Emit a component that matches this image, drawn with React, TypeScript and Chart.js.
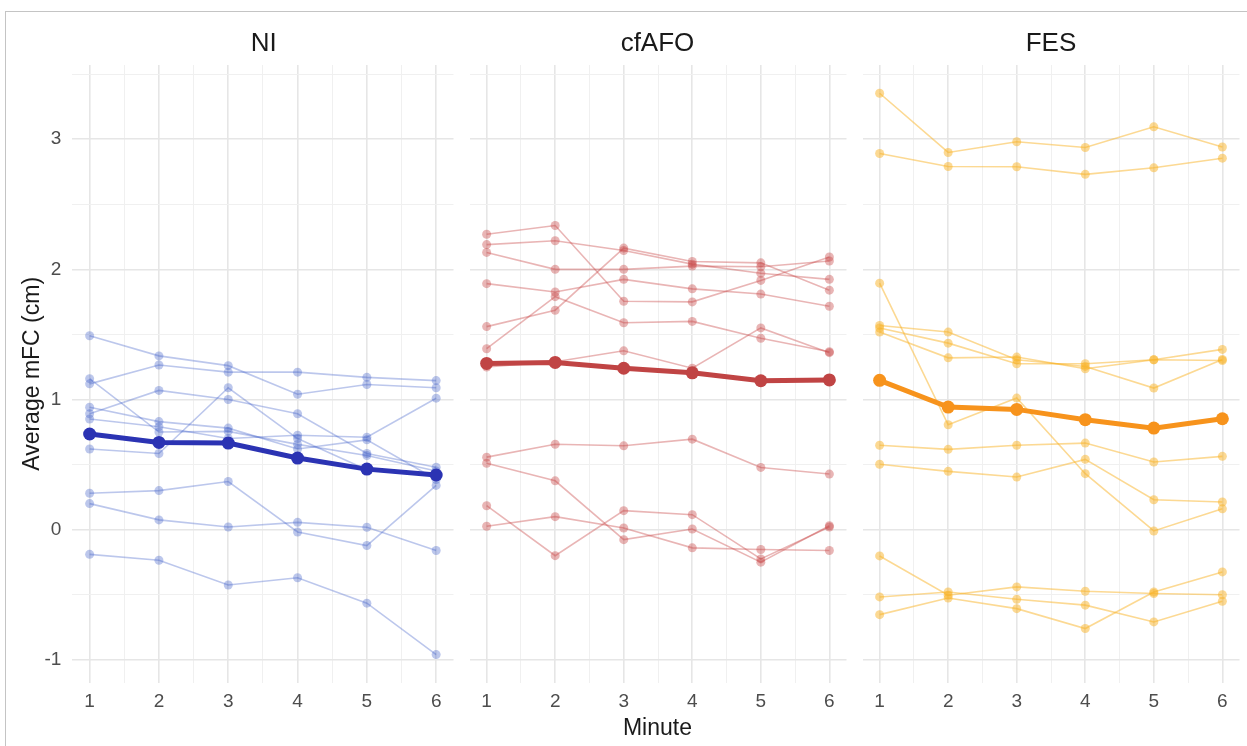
import React, { useEffect, useRef } from 'react';
import { Chart, registerables } from 'chart.js';

Chart.register(...registerables);

// ---------- data ----------
const minutes = [1, 2, 3, 4, 5, 6];
const xTickValues = [1, 1.5, 2, 2.5, 3, 3.5, 4, 4.5, 5, 5.5, 6];
const yTickValues = [-1, -0.5, 0, 0.5, 1, 1.5, 2, 2.5, 3, 3.5];
const panelTitles = ['NI', 'cfAFO', 'FES'];

const niLines = [
  [1.49, 1.335, 1.26, 1.04, 1.115, 1.09],
  [1.12, 1.265, 1.21, 1.21, 1.17, 1.145],
  [1.16, 0.75, 0.755, 0.655, 0.57, 0.45],
  [0.62, 0.585, 1.09, 0.7, 0.46, 0.42],
  [0.28, 0.3, 0.37, -0.018, -0.122, 0.34],
  [0.2, 0.075, 0.02, 0.056, 0.018, -0.16],
  [-0.19, -0.235, -0.425, -0.37, -0.565, -0.96],
  [0.89, 1.07, 1.0, 0.89, 0.585, 0.48],
  [0.94, 0.83, 0.78, 0.62, 0.69, 0.385],
  [0.85, 0.79, 0.7, 0.725, 0.71, 1.01],
];
const niMean = [0.735, 0.67, 0.665, 0.55, 0.465, 0.42];

const cfafoLines = [
  [2.27, 2.337, 1.755, 1.75, 1.915, 2.095],
  [2.19, 2.22, 2.145, 2.04, 1.97, 1.923],
  [2.13, 2.0, 2.0, 2.025, 2.02, 2.064],
  [1.89, 1.826, 1.923, 1.85, 1.81, 1.716],
  [1.56, 1.686, 2.163, 2.06, 2.05, 1.84],
  [1.39, 1.79, 1.59, 1.6, 1.47, 1.367],
  [1.25, 1.29, 1.374, 1.24, 1.55, 1.36],
  [0.557, 0.656, 0.644, 0.695, 0.478, 0.427],
  [0.51, 0.375, -0.077, 0.005, -0.25, 0.03],
  [0.184, -0.2, 0.146, 0.115, -0.225, 0.02],
  [0.026, 0.1, 0.013, -0.14, -0.153, -0.16],
];
const cfafoMean = [1.277, 1.285, 1.24, 1.205, 1.144, 1.15];

const fesLines = [
  [3.353, 2.898, 2.98, 2.936, 3.095, 2.94],
  [2.89, 2.79, 2.788, 2.73, 2.78, 2.854],
  [1.894, 0.806, 1.011, 0.43, -0.01, 0.16],
  [1.569, 1.518, 1.305, 1.254, 1.088, 1.308],
  [1.549, 1.433, 1.275, 1.275, 1.305, 1.3],
  [1.518, 1.32, 1.326, 1.236, 1.305, 1.385],
  [0.648, 0.617, 0.648, 0.665, 0.52, 0.563],
  [0.502, 0.448, 0.404, 0.54, 0.23, 0.212],
  [-0.202, -0.504, -0.44, -0.473, -0.491, -0.5],
  [-0.517, -0.479, -0.535, -0.58, -0.709, -0.55],
  [-0.653, -0.525, -0.607, -0.76, -0.479, -0.325],
];
const fesMean = [1.147, 0.942, 0.924, 0.845, 0.78, 0.852];

const allLines = [niLines, cfafoLines, fesLines];
const allMeans = [niMean, cfafoMean, fesMean];

// ---------- styling ----------
const lightColors = ['rgba(60,90,200,0.34)', 'rgba(200,70,70,0.4)', 'rgba(250,180,40,0.5)'];
const meanColors = ['#2b33b3', '#c04444', '#f7931c'];
const FONT = '"Liberation Sans", Arial, Helvetica, sans-serif';

const Y_MIN = -1.176;
const Y_MAX = 3.57;
const X_MIN = 0.75;
const X_MAX = 6.25;

const PANELS = [
  { left: 72.3, right: 455 },
  { left: 466.7, right: 848.3 },
  { left: 860, right: 1242 },
];
const PLOT_TOP = 65;
const PLOT_BOTTOM = 682.7;
const CANVAS_H = 746;

const toPoints = (vals: number[]) => vals.map((v, i) => ({ x: minutes[i], y: v }));

const isMajor = (v: number) => Math.abs(v - Math.round(v)) < 1e-9;

export default function App() {
  const refs = [useRef<HTMLCanvasElement>(null), useRef<HTMLCanvasElement>(null), useRef<HTMLCanvasElement>(null)];

  useEffect(() => {
    const charts: Chart[] = [];
    PANELS.forEach((p, i) => {
      const canvas = refs[i].current;
      if (!canvas) return;
      const padL = i === 0 ? 0 : 4;
      const datasets: any[] = [
        {
          data: toPoints(allMeans[i]),
          borderColor: meanColors[i],
          backgroundColor: meanColors[i],
          borderWidth: 5,
          pointRadius: 6.5,
          pointBorderWidth: 0,
          order: 0,
        },
        ...allLines[i].map((vals) => ({
          data: toPoints(vals),
          borderColor: lightColors[i],
          backgroundColor: lightColors[i],
          borderWidth: 1.6,
          pointRadius: 4.5,
          pointBorderWidth: 0,
          order: 1,
        })),
      ];
      const gridColor = (ctx: any) =>
        ctx.tick && isMajor(ctx.tick.value) ? '#e6e6e6' : '#f0f0f0';
      const gridWidth = (ctx: any) => (ctx.tick && isMajor(ctx.tick.value) ? 1.6 : 1);
      const chart = new Chart(canvas, {
        type: 'line',
        data: { datasets },
        options: {
          animation: false,
          responsive: false,
          devicePixelRatio: 1,
          events: [],
          layout: {
            padding: { left: padL, right: i === 0 ? 5 : 4, top: PLOT_TOP, bottom: 0 },
          },
          plugins: { legend: { display: false }, tooltip: { enabled: false }, title: { display: false } },
          scales: {
            x: {
              type: 'linear',
              min: X_MIN,
              max: X_MAX,
              afterBuildTicks: (s: any) => {
                s.ticks = xTickValues.map((v) => ({ value: v }));
              },
              afterFit: (s: any) => {
                s.height = CANVAS_H - PLOT_BOTTOM;
              },
              ticks: {
                autoSkip: false,
                maxRotation: 0,
                callback: (v: any) => (isMajor(Number(v)) ? String(v) : ''),
                font: { size: 19, family: FONT },
                color: '#4d4d4d',
                padding: 8,
              },
              grid: { drawTicks: false, color: gridColor, lineWidth: gridWidth },
              border: { display: false },
            },
            y: {
              type: 'linear',
              min: Y_MIN,
              max: Y_MAX,
              afterBuildTicks: (s: any) => {
                s.ticks = yTickValues.map((v) => ({ value: v }));
              },
              afterFit: (s: any) => {
                s.width = i === 0 ? p.left : 0;
              },
              ticks: {
                display: i === 0,
                autoSkip: false,
                callback: (v: any) => (isMajor(Number(v)) ? String(v) : ''),
                font: { size: 19, family: FONT },
                color: '#4d4d4d',
                padding: 11,
              },
              grid: { drawTicks: false, color: gridColor, lineWidth: gridWidth },
              border: { display: false },
              title: {
                display: i === 0,
                text: 'Average mFC (cm)',
                font: { size: 23, family: FONT },
                color: '#1a1a1a',
                padding: { top: 19, bottom: 0 },
              },
            },
          },
        },
      } as any);
      charts.push(chart);
    });
    return () => charts.forEach((c) => c.destroy());
  }, []);

  return (
    <div
      style={{
        position: 'absolute',
        left: 0,
        top: 0,
        width: 1247,
        height: 746,
        overflow: 'hidden',
        background: '#fff',
        fontFamily: FONT,
      }}
    >
      <div
        style={{
          position: 'absolute',
          left: 5,
          top: 11,
          width: 1260,
          height: 760,
          borderTop: '1px solid #c4c4c4',
          borderLeft: '1px solid #c4c4c4',
          boxSizing: 'border-box',
        }}
      />
      {PANELS.map((p, i) => {
        const cl = i === 0 ? 0 : p.left - 4;
        const cw = i === 0 ? p.right + 5 : p.right - p.left + 8;
        return (
          <canvas
            key={'c' + i}
            ref={refs[i]}
            width={Math.round(cw)}
            height={CANVAS_H}
            style={{ position: 'absolute', left: cl, top: 0, width: Math.round(cw), height: CANVAS_H }}
          />
        );
      })}
      {PANELS.map((p, i) => (
        <div
          key={'t' + i}
          style={{
            position: 'absolute',
            left: p.left,
            width: p.right - p.left,
            top: 27,
            textAlign: 'center',
            fontSize: 26,
            lineHeight: '30px',
            color: '#1a1a1a',
          }}
        >
          {panelTitles[i]}
        </div>
      ))}
      <div
        style={{
          position: 'absolute',
          left: PANELS[1].left,
          width: PANELS[1].right - PANELS[1].left,
          top: 713,
          textAlign: 'center',
          fontSize: 23,
          lineHeight: '28px',
          color: '#1a1a1a',
        }}
      >
        Minute
      </div>
    </div>
  );
}
